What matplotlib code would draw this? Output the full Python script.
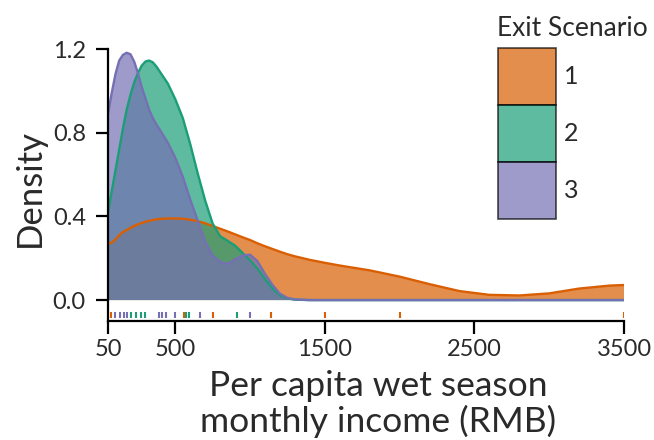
import matplotlib
matplotlib.use("Agg")
import matplotlib.pyplot as plt
from matplotlib.patches import Patch
import numpy as np

# ---- data ----
scenarios = ["1", "2", "3"]
colors = ["#D95F02", "#1B9E77", "#7570B3"]

income_grid = [50, 75, 100, 125, 150, 175, 200, 225, 250, 275, 300, 325, 350, 375,
               400, 450, 500, 550, 600, 650, 700, 750, 800, 850, 900, 950, 1000,
               1050, 1100, 1150, 1200, 1250, 1300, 1400, 1500, 1600, 1800, 2000,
               2200, 2400, 2600, 2800, 3000, 3200, 3400, 3500]

density_s1 = [0.268, 0.275, 0.290, 0.310, 0.325, 0.335, 0.345, 0.355, 0.362, 0.368,
              0.374, 0.379, 0.383, 0.386, 0.388, 0.390, 0.390, 0.389, 0.384, 0.377,
              0.367, 0.354, 0.341, 0.328, 0.314, 0.300, 0.287, 0.271, 0.257, 0.244,
              0.231, 0.219, 0.209, 0.192, 0.178, 0.165, 0.142, 0.112, 0.076, 0.043,
              0.025, 0.022, 0.032, 0.055, 0.069, 0.072]

density_s2 = [0.420, 0.520, 0.620, 0.720, 0.820, 0.910, 0.980, 1.040, 1.085, 1.120,
              1.140, 1.145, 1.136, 1.115, 1.088, 1.035, 0.960, 0.870, 0.745, 0.605,
              0.475, 0.365, 0.305, 0.283, 0.260, 0.225, 0.190, 0.150, 0.100, 0.055,
              0.022, 0.008, 0.002, 0.0, 0.0, 0.0, 0.0, 0.0, 0.0, 0.0,
              0.0, 0.0, 0.0, 0.0, 0.0, 0.0]

density_s3 = [0.890, 0.990, 1.080, 1.145, 1.172, 1.182, 1.175, 1.140, 1.085, 1.020,
              0.965, 0.910, 0.870, 0.838, 0.810, 0.752, 0.680, 0.590, 0.480, 0.380,
              0.280, 0.213, 0.183, 0.173, 0.195, 0.213, 0.217, 0.185, 0.125, 0.072,
              0.030, 0.010, 0.003, 0.0, 0.0, 0.0, 0.0, 0.0, 0.0, 0.0,
              0.0, 0.0, 0.0, 0.0, 0.0, 0.0]

rug_s1 = [70, 560, 750, 1140, 1500, 2000, 3500]
rug_s2 = [206, 239, 272, 299, 574, 594, 915]
rug_s3 = [98, 132, 158, 178, 393, 413, 440, 500, 665, 1000]

x_ticks = [50, 500, 1500, 2500, 3500]
y_ticks = [0.0, 0.4, 0.8, 1.2]

densities = [density_s1, density_s2, density_s3]
rugs = [rug_s1, rug_s2, rug_s3]

# ---- style ----
FONT = ["Lato", "DejaVu Sans"]
plt.rcParams["font.family"] = FONT
plt.rcParams["font.weight"] = "normal"
TXT = "#2a2a2a"

W, H = 654, 440
fig = plt.figure(figsize=(W / 100, H / 100), dpi=100)
ax = fig.add_axes([108 / W, 1 - 321 / H, 516 / W, 272 / H])

for dens, col in zip(densities, colors):
    ax.fill_between(income_grid, 0, dens, facecolor=col, alpha=0.7, linewidth=0)
    ax.plot(income_grid, dens, color=col, linewidth=1.7, solid_capstyle="butt")

for rug, col in zip(rugs, colors):
    ax.vlines(rug, -0.088, -0.055, colors=col, linewidth=1.5)

ax.set_xlim(50, 3500)
ax.set_ylim(-0.1, 1.2)
ax.set_xticks(x_ticks)
ax.set_xticklabels([str(t) for t in x_ticks])
ax.set_yticks(y_ticks)
ax.set_yticklabels([f"{t:.1f}" for t in y_ticks])

for s in ["top", "right"]:
    ax.spines[s].set_visible(False)
for s in ["left", "bottom"]:
    ax.spines[s].set_linewidth(1.6)
    ax.spines[s].set_color("black")
ax.tick_params(axis="both", length=9, width=1.6, color="black",
               labelsize=17, labelcolor=TXT)
ax.tick_params(axis="y", pad=7)
ax.tick_params(axis="x", pad=4)

fig.text(30 / W, 1 - 188 / H, "Density", rotation=90, ha="center", va="center",
         fontsize=25, color=TXT)
fig.text(378 / W, 1 - 404 / H, "Per capita wet season\nmonthly income (RMB)",
         ha="center", va="center", fontsize=25.5, color=TXT, linespacing=1.1)

# legend
fig.text(497 / W, 1 - 28 / H, "Exit Scenario", ha="left", va="center",
         fontsize=19, color=TXT)
handles = [Patch(facecolor=c, alpha=0.7, edgecolor="black", linewidth=1.2)
           for c in colors]
fs_leg = 18
box_h_units = 57 / (fs_leg * 100 / 72)
leg = ax.legend(handles, scenarios, loc="upper left",
                bbox_to_anchor=(498 / W, 1 - 48 / H), bbox_transform=fig.transFigure,
                frameon=False, fontsize=fs_leg,
                handlelength=58 / (fs_leg * 100 / 72),
                handleheight=(box_h_units - 0.245) / 0.65,
                labelspacing=0.0, handletextpad=0.3, borderpad=0, borderaxespad=0)
for t in leg.get_texts():
    t.set_color(TXT)
for p in leg.get_patches():
    p.set_edgecolor("black")

fig.savefig("out.png", dpi=100)
